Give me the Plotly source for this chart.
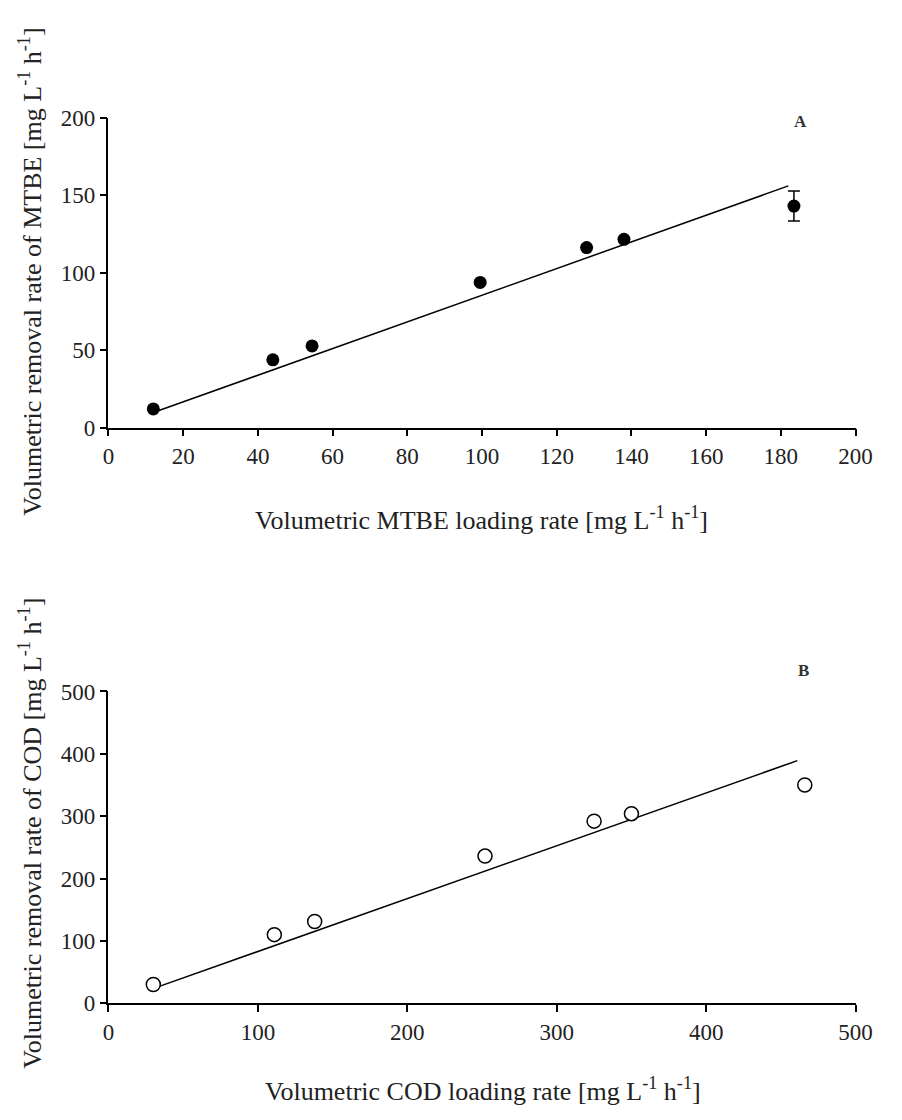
import plotly.graph_objects as go

# Panel A data (MTBE)
mtbe_load = [12, 44, 54.5, 99.5, 128, 138, 183.5]
mtbe_removal = [12, 43.7, 52.7, 93.7, 116.2, 121.5, 143]
mtbe_err = [0, 0, 0, 0, 0, 0, 9.7]
mtbe_fit_x = [13.5, 182]
mtbe_fit_y = [11, 156]

# Panel B data (COD)
cod_load = [30, 111, 138, 252, 325, 350, 466]
cod_removal = [30, 110, 131, 236, 292, 304, 350]
cod_fit_x = [34, 461]
cod_fit_y = [27, 389]

FONT = "Liberation Serif"
OFF = 8  # default body margin of the html page
W, H = 902 - 2 * OFF, 1120 - 2 * OFF


def fx(p):
    return (p - OFF) / W


def fy(p):
    return 1 - (p - OFF) / H


fig = go.Figure()

fig.add_trace(go.Scatter(x=mtbe_fit_x, y=mtbe_fit_y, mode="lines",
                         line=dict(color="black", width=1.5),
                         xaxis="x", yaxis="y", showlegend=False, cliponaxis=False))
fig.add_trace(go.Scatter(x=mtbe_load, y=mtbe_removal, mode="markers",
                         marker=dict(color="black", size=13, symbol="circle"),
                         error_y=dict(type="data", array=mtbe_err, visible=True,
                                      color="black", thickness=1.5, width=6),
                         xaxis="x", yaxis="y", showlegend=False, cliponaxis=False))

fig.add_trace(go.Scatter(x=cod_fit_x, y=cod_fit_y, mode="lines",
                         line=dict(color="black", width=1.5),
                         xaxis="x2", yaxis="y2", showlegend=False, cliponaxis=False))
fig.add_trace(go.Scatter(x=cod_load, y=cod_removal, mode="markers",
                         marker=dict(color="white", size=14, symbol="circle",
                                     line=dict(color="black", width=1.5)),
                         xaxis="x2", yaxis="y2", showlegend=False, cliponaxis=False))

axis_common = dict(showline=True, linecolor="black", linewidth=1.5,
                   ticks="outside", ticklen=7, tickwidth=1.5, tickcolor="black",
                   showgrid=False, zeroline=False,
                   tickfont=dict(family=FONT, size=23, color="#222"))

xd = [fx(105), fx(872)]
fig.update_layout(
    width=W, height=H,
    margin=dict(l=0, r=0, t=0, b=0),
    paper_bgcolor="white", plot_bgcolor="white",
    xaxis=dict(domain=xd, range=[0, 200], tickvals=list(range(0, 201, 20)),
               anchor="y", **axis_common),
    yaxis=dict(domain=[fy(425), fy(108)], range=[0, 200],
               tickvals=[0, 50, 100, 150, 200], anchor="x", **axis_common),
    xaxis2=dict(domain=xd, range=[0, 500], tickvals=list(range(0, 501, 100)),
                anchor="y2", **axis_common),
    yaxis2=dict(domain=[fy(1014), fy(695)], range=[0, 500],
                tickvals=list(range(0, 501, 100)), anchor="x2", **axis_common),
)

tfont = dict(family=FONT, size=26, color="#222")
ann = [
    dict(text="Volumetric MTBE loading rate [mg L<sup>-1</sup> h<sup>-1</sup>]",
         x=fx(488), y=fy(518)),
    dict(text="Volumetric COD loading rate [mg L<sup>-1</sup> h<sup>-1</sup>]",
         x=fx(489), y=fy(1102)),
    dict(text="Volumetric removal rate of MTBE [mg L<sup>-1</sup> h<sup>-1</sup>]",
         x=fx(25), y=fy(266), textangle=-90),
    dict(text="Volumetric removal rate of COD [mg L<sup>-1</sup> h<sup>-1</sup>]",
         x=fx(25), y=fy(840), textangle=-90),
]
for a in ann:
    fig.add_annotation(xref="paper", yref="paper", showarrow=False,
                       xanchor="center", yanchor="middle", font=tfont, **a)

for lbl, xx, yy in [("A", 815, 112), ("B", 819, 674)]:
    fig.add_annotation(text="<b>%s</b>" % lbl, xref="paper", yref="paper",
                       x=fx(xx), y=fy(yy), showarrow=False,
                       xanchor="center", yanchor="middle",
                       font=dict(family=FONT, size=17, color="#333"))

fig.write_html("out.html")
